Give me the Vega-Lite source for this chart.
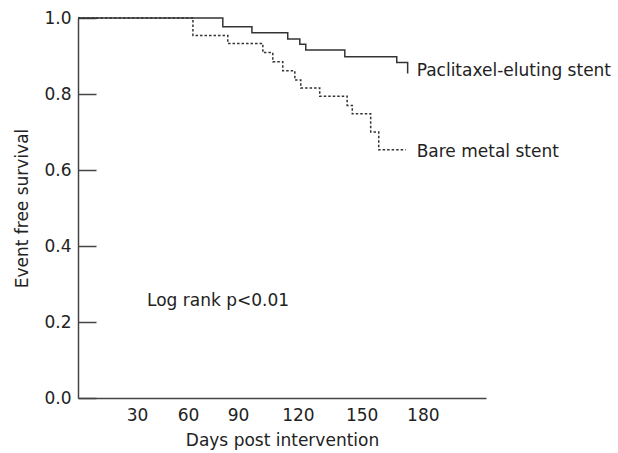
{
  "$schema": "https://vega.github.io/schema/vega-lite/v6.json",
  "width": 408,
  "height": 380,
  "autosize": "none",
  "padding": {"left": 78, "top": 18, "right": 132, "bottom": 55},
  "background": "white",
  "config": {
    "view": {"stroke": null},
    "font": "DejaVu Sans",
    "axis": {"labelFont": "DejaVu Sans", "titleFont": "DejaVu Sans"},
    "text": {"font": "DejaVu Sans"}
  },
  "datasets": {
    "curves": [
      {"group": "Paclitaxel-eluting stent", "day": 0, "surv": 1.0},
      {"group": "Paclitaxel-eluting stent", "day": 75.6, "surv": 0.977},
      {"group": "Paclitaxel-eluting stent", "day": 90.8, "surv": 0.961},
      {"group": "Paclitaxel-eluting stent", "day": 109.5, "surv": 0.945},
      {"group": "Paclitaxel-eluting stent", "day": 115.8, "surv": 0.931},
      {"group": "Paclitaxel-eluting stent", "day": 118.9, "surv": 0.916},
      {"group": "Paclitaxel-eluting stent", "day": 139.3, "surv": 0.898},
      {"group": "Paclitaxel-eluting stent", "day": 166.4, "surv": 0.883},
      {"group": "Paclitaxel-eluting stent", "day": 172.1, "surv": 0.854},
      {"group": "Bare metal stent", "day": 0, "surv": 1.0},
      {"group": "Bare metal stent", "day": 60.0, "surv": 0.954},
      {"group": "Bare metal stent", "day": 78.2, "surv": 0.933},
      {"group": "Bare metal stent", "day": 96.5, "surv": 0.909},
      {"group": "Bare metal stent", "day": 101.7, "surv": 0.885},
      {"group": "Bare metal stent", "day": 106.9, "surv": 0.861},
      {"group": "Bare metal stent", "day": 113.2, "surv": 0.837},
      {"group": "Bare metal stent", "day": 116.3, "surv": 0.816},
      {"group": "Bare metal stent", "day": 126.2, "surv": 0.794},
      {"group": "Bare metal stent", "day": 140.5, "surv": 0.770},
      {"group": "Bare metal stent", "day": 143.2, "surv": 0.748},
      {"group": "Bare metal stent", "day": 152.8, "surv": 0.700},
      {"group": "Bare metal stent", "day": 157.0, "surv": 0.653},
      {"group": "Bare metal stent", "day": 171.1, "surv": 0.653}
    ],
    "labels": [
      {"label": "Paclitaxel-eluting stent", "day": 176.8, "surv": 0.847},
      {"label": "Bare metal stent", "day": 176.8, "surv": 0.634},
      {"label": "Log rank p<0.01", "day": 36.0, "surv": 0.242}
    ]
  },
  "layer": [
    {
      "data": {"name": "curves"},
      "mark": {"type": "line", "interpolate": "step-after", "strokeWidth": 1.5, "color": "#333"},
      "encoding": {
        "x": {
          "field": "day", "type": "quantitative",
          "scale": {"domain": [0, 213], "nice": false},
          "axis": {
            "title": "Days post intervention",
            "values": [30.8, 57.4, 83.5, 114.8, 148.1, 180],
            "labelExpr": "round(datum.value/30)*30",
            "ticks": false, "grid": false,
            "domainColor": "#444", "domainWidth": 1.5,
            "labelFontSize": 17, "labelPadding": 9, "labelColor": "#222",
            "titleFontSize": 17, "titleColor": "#222", "titleFontWeight": "normal",
            "titleBaseline": "alphabetic", "titleY": 47
          }
        },
        "y": {
          "field": "surv", "type": "quantitative",
          "scale": {"domain": [0, 1], "nice": false, "zero": true},
          "axis": {
            "title": "Event free survival",
            "values": [0, 0.2, 0.4, 0.6, 0.8, 1.0],
            "format": ".1f",
            "tickSize": -18, "labelPadding": 25, "tickColor": "#444", "tickWidth": 1.5,
            "grid": false, "domainColor": "#444", "domainWidth": 1.5,
            "labelFontSize": 17, "labelColor": "#222",
            "titleFontSize": 17, "titleColor": "#222", "titleFontWeight": "normal",
            "titleX": -47, "titleY": 190
          }
        },
        "strokeDash": {
          "field": "group", "type": "nominal",
          "scale": {"domain": ["Paclitaxel-eluting stent", "Bare metal stent"], "range": [[1, 0], [2.5, 2]]},
          "legend": null
        }
      }
    },
    {
      "data": {"name": "labels"},
      "mark": {"type": "text", "align": "left", "baseline": "alphabetic", "fontSize": 17, "color": "#222", "font": "DejaVu Sans"},
      "encoding": {
        "x": {"field": "day", "type": "quantitative"},
        "y": {"field": "surv", "type": "quantitative"},
        "text": {"field": "label"}
      }
    }
  ]
}
